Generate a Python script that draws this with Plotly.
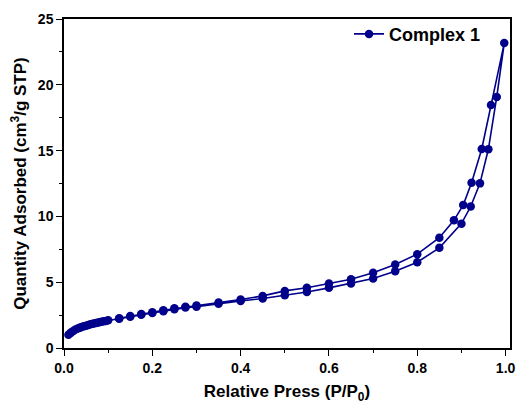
import plotly.graph_objects as go

# Adsorption branch (lower)
ads_x = [0.010, 0.015, 0.020, 0.025, 0.030, 0.035, 0.040, 0.045, 0.050, 0.055,
         0.060, 0.065, 0.070, 0.075, 0.080, 0.085, 0.090, 0.095, 0.100,
         0.125, 0.150, 0.175, 0.200, 0.225, 0.250, 0.275, 0.300, 0.350, 0.400,
         0.450, 0.500, 0.550, 0.600, 0.650, 0.700, 0.750, 0.800, 0.850, 0.900,
         0.921, 0.942, 0.961, 0.980, 0.997]
ads_y = [1.00, 1.15, 1.28, 1.38, 1.46, 1.53, 1.59, 1.65, 1.70, 1.75,
         1.80, 1.84, 1.88, 1.92, 1.96, 1.99, 2.03, 2.06, 2.10,
         2.22, 2.38, 2.53, 2.66, 2.80, 2.95, 3.07, 3.13, 3.37, 3.57,
         3.76, 4.01, 4.26, 4.57, 4.90, 5.28, 5.84, 6.52, 7.61, 9.45,
         10.75, 12.51, 15.10, 19.08, 23.17]

# Desorption branch (upper)
des_x = [0.967, 0.946, 0.923, 0.904, 0.883, 0.850, 0.800, 0.750, 0.700, 0.650,
         0.600, 0.550, 0.500, 0.450, 0.400, 0.350, 0.300, 0.275, 0.250, 0.225,
         0.200, 0.175, 0.150, 0.125]
des_y = [18.47, 15.12, 12.56, 10.86, 9.70, 8.38, 7.13, 6.35, 5.71, 5.23,
         4.90, 4.58, 4.34, 3.96, 3.68, 3.46, 3.22, 3.13, 3.02, 2.87,
         2.72, 2.58, 2.43, 2.26]

series_name = "Complex 1"
x_tick_vals = [0.0, 0.2, 0.4, 0.6, 0.8, 1.0]
x_tick_text = ["0.0", "0.2", "0.4", "0.6", "0.8", "1.0"]
y_tick_vals = [0, 5, 10, 15, 20, 25]
y_tick_text = ["0", "5", "10", "15", "20", "25"]

navy = "#00008B"
font_family = "Liberation Sans, Arial, sans-serif"

fig = go.Figure()
fig.add_trace(go.Scatter(
    x=ads_x + des_x,
    y=ads_y + des_y,
    mode="lines+markers",
    name=series_name,
    line=dict(color=navy, width=1.6),
    marker=dict(color=navy, size=8.5, symbol="circle"),
))

axis_common = dict(
    showline=True, linecolor="black", linewidth=1.5, mirror=True,
    ticks="outside", ticklen=6, tickwidth=1.3, tickcolor="black",
    showgrid=False, zeroline=False,
    tickfont=dict(family=font_family, size=14, color="black", weight="bold"),
)

fig.update_xaxes(
    range=[0, 1.01], tickvals=x_tick_vals, ticktext=x_tick_text,
    minor=dict(ticks="outside", ticklen=3, tickwidth=1.3, tickcolor="black", dtick=0.1, tick0=0),
    title=dict(text="Relative Press (P/P<sub>0</sub>)",
               font=dict(family=font_family, size=17, color="black", weight="bold"),
               standoff=11),
    **axis_common,
)
fig.update_yaxes(
    range=[0, 25], tickvals=y_tick_vals, ticktext=y_tick_text,
    minor=dict(ticks="outside", ticklen=3, tickwidth=1.3, tickcolor="black", dtick=2.5, tick0=0),
    title=dict(text="Quantity Adsorbed (cm<sup>3</sup>/g STP)",
               font=dict(family=font_family, size=17, color="black", weight="bold"),
               standoff=7),
    **axis_common,
)

fig.update_layout(
    width=517, height=404,
    margin=dict(l=64, r=7, t=19, b=56, autoexpand=False),
    paper_bgcolor="white", plot_bgcolor="white",
    showlegend=True,
    legend=dict(x=0.639, y=1.01, xanchor="left", yanchor="top",
                bgcolor="rgba(0,0,0,0)", borderwidth=0,
                font=dict(family=font_family, size=18, color="black", weight="bold")),
)

fig.write_html("out.html", config={"displayModeBar": False},
               post_script="document.body.style.margin='0';")
